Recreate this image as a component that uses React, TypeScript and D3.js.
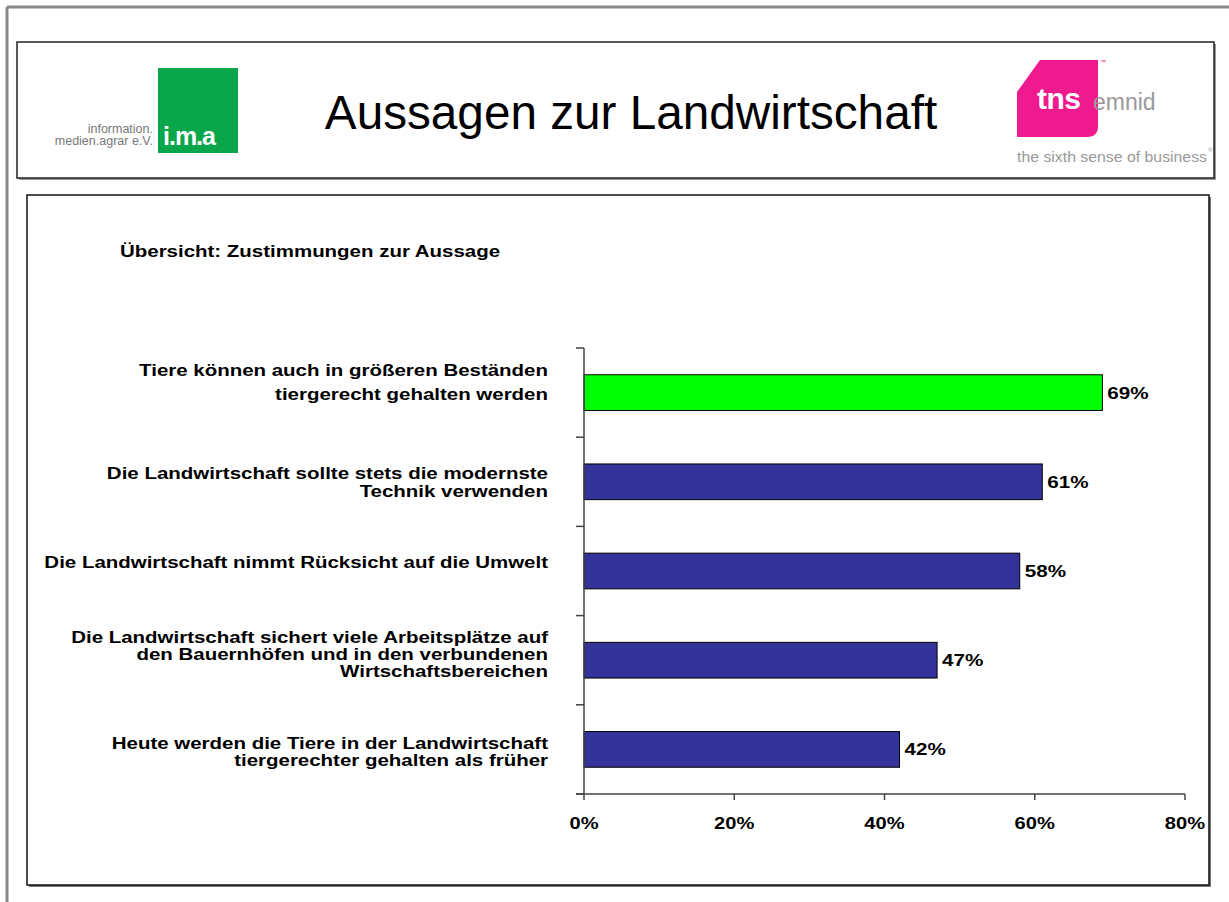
import React from "react";
import * as d3 from "d3";

const categories: string[][] = [
  ["Tiere können auch in größeren Beständen", "tiergerecht gehalten werden"],
  ["Die Landwirtschaft sollte stets die modernste", "Technik verwenden"],
  ["Die Landwirtschaft nimmt Rücksicht auf die Umwelt"],
  ["Die Landwirtschaft sichert viele Arbeitsplätze auf", "den Bauernhöfen und in den verbundenen", "Wirtschaftsbereichen"],
  ["Heute werden die Tiere in der Landwirtschaft", "tiergerechter gehalten als früher"],
];
const values: number[] = [69, 61, 58, 47, 42];
const highlighted: boolean[] = [true, false, false, false, false];
const xTicks: number[] = [0, 20, 40, 60, 80];
const title = "Aussagen zur Landwirtschaft";
const subtitle = "Übersicht: Zustimmungen zur Aussage";

const FONT = "Arial, 'Liberation Sans', Helvetica, sans-serif";
const SX = 1.28; // horizontal stretch of the bold chart text

function SText(props: {
  x: number; y: number; sx?: number; anchor?: string; size: number; bold?: boolean;
  fill?: string; dy?: string; children: React.ReactNode;
}) {
  const { x, y, sx = SX, anchor = "start", size, bold = true, fill = "#000", dy, children } = props;
  return (
    <g transform={`translate(${x},${y}) scale(${sx},1)`}>
      <text x={0} y={0} dy={dy} textAnchor={anchor} fontSize={size} fontWeight={bold ? "bold" : "normal"} fill={fill}>
        {children}
      </text>
    </g>
  );
}

export default function App() {
  const W = 1229, H = 902;
  const plot = { left: 584, right: 1185, top: 348, bottom: 794 };
  const x = d3.scaleLinear().domain([0, 80]).range([plot.left, plot.right]);
  const idx = categories.map((_, i) => String(i));
  const y = d3.scaleBand().domain(idx).range([plot.top, plot.bottom]).paddingInner(0).paddingOuter(0);
  const bw = y.bandwidth();
  const labelShift = [-10, 0, -9, -6, 2];
  const lineH = [24, 18, 17, 17, 17];

  return (
    <svg width={W} height={H} style={{ position: "absolute", left: 0, top: 0, background: "#fff" }} fontFamily={FONT}>
      {/* outer frame */}
      <line x1={7} y1={7} x2={W} y2={7} stroke="#888" strokeWidth={3} />
      <line x1={7} y1={7} x2={7} y2={H} stroke="#888" strokeWidth={3} />

      {/* header box */}
      <rect x={19} y={44} width={1197} height={136} fill="#999" />
      <rect x={17} y={42} width={1197} height={136} fill="#fff" stroke="#222" strokeWidth={1.5} />

      {/* ima logo */}
      <rect x={158} y={68} width={80} height={85} fill="#0aa64b" />
      <text x={163} y={145} fill="#fff" fontSize={25} fontWeight="bold" letterSpacing={-1}>i.m.a</text>
      <text x={153} y={133} fill="#777" fontSize={12.5} textAnchor="end">information.</text>
      <text x={153} y={145} fill="#777" fontSize={12.5} textAnchor="end">medien.agrar e.V.</text>

      {/* title */}
      <text x={631} y={129} fontSize={47.7} textAnchor="middle" fill="#000">{title}</text>

      {/* tns logo */}
      <path d="M1040,60 L1098,60 L1098,126 Q1098,137 1087,137 L1017,137 L1017,92 Z" fill="#ee1a8e" />
      <text x={1037} y={109} fill="#fff" fontSize={30} fontWeight="bold" letterSpacing={-0.5}>tns</text>
      <text x={1093} y={110} fill="#999" fontSize={23}>emnid</text>
      <text x={1100} y={64} fill="#ee1a8e" fontSize={6}>™</text>
      <text x={1017} y={162} fill="#999" fontSize={14} textLength={190} lengthAdjust="spacingAndGlyphs">the sixth sense of business</text>
      <text x={1208} y={152} fill="#999" fontSize={6}>®</text>

      {/* chart box */}
      <rect x={29} y={197} width={1182} height={690} fill="#777" />
      <rect x={27} y={195} width={1182} height={690} fill="#fff" stroke="#111" strokeWidth={1.5} />

      <SText x={120} y={257} size={16}>{subtitle}</SText>

      {/* bars */}
      {values.map((v, i) => {
        const y0 = (y(String(i)) as number) + bw * 0.3;
        const h = bw * 0.4;
        return (
          <g key={i}>
            <rect x={x(0)} y={y0} width={x(v) - x(0)} height={h}
              fill={highlighted[i] ? "#00ff00" : "#333399"} stroke="#000" strokeWidth={1} />
            <SText x={x(v) + 5} y={y0 + h / 2} dy="0.36em" size={16.5} sx={1.25}>{v}%</SText>
          </g>
        );
      })}

      {/* category labels */}
      {categories.map((lines, i) => {
        const c = (y(String(i)) as number) + bw / 2 + labelShift[i];
        const lh = lineH[i];
        const start = c - ((lines.length - 1) * lh) / 2;
        return (
          <g key={i}>
            {lines.map((l, j) => (
              <SText key={j} x={548} y={start + j * lh} dy="0.36em" size={16} anchor="end">{l}</SText>
            ))}
          </g>
        );
      })}

      {/* y axis */}
      <line x1={plot.left} y1={plot.top} x2={plot.left} y2={plot.bottom} stroke="#444" strokeWidth={1.5} />
      {idx.concat(["end"]).map((k, i) => {
        const yy = i < idx.length ? (y(k) as number) : plot.bottom;
        return <line key={k} x1={plot.left - 8} x2={plot.left} y1={yy} y2={yy} stroke="#444" strokeWidth={1.5} />;
      })}

      {/* x axis */}
      <line x1={plot.left - 8} y1={plot.bottom} x2={plot.right} y2={plot.bottom} stroke="#444" strokeWidth={1.5} />
      {xTicks.map((t) => (
        <g key={t}>
          <line x1={x(t)} x2={x(t)} y1={plot.bottom} y2={plot.bottom + 6} stroke="#444" strokeWidth={1.5} />
          <SText x={x(t)} y={829} anchor="middle" size={16.5} sx={1.22}>{t}%</SText>
        </g>
      ))}
    </svg>
  );
}
